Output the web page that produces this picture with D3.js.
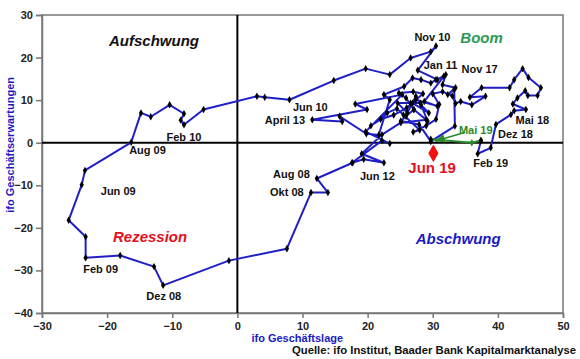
<!DOCTYPE html>
<html>
<head>
<meta charset="utf-8">
<script src="https://cdn.jsdelivr.net/npm/d3@7"></script>
<style>
    body { margin: 0; background: #fff; }
    #clock { width: 580px; height: 359px; }
    text { font-family: "Liberation Sans", Arial, sans-serif; }
    .axis text { font-size: 11px; font-weight: bold; fill: #222; }
    .axis path, .axis line { stroke: #777; stroke-width: 1.5; }
</style>
</head>
<body>
<div id="clock"></div>
<script>

// ifo Geschäftslage (x) und Geschäftserwartungen (y), monatlich Jul 08 - Mai 19
const lage = [
    17.7, 12.2, 13.9, 11.3, 7.6, -1.3,
    -11.4, -12.8, -18.0, -23.3, -23.3, -25.9, -23.9, -23.4, -16.3, -14.8, -13.3, -10.4,
    -8.2, -8.7, -8.2, -5.2, 3.0, 4.2, 8.0, 14.8, 19.7, 23.4, 26.6, 29.7,
    30.5, 27.7, 30.7, 32.0, 31.5, 33.5, 32.3, 33.3, 33.4, 29.7, 27.9, 25.1,
    25.9, 27.1, 29.0, 25.1, 22.2, 19.1, 22.5, 19.4, 17.6, 22.2, 23.4, 19.7,
    25.3, 18.1, 19.9, 11.5, 16.1, 15.7, 19.8, 21.7, 23.4, 22.5, 25.6, 26.9,
    28.2, 29.7, 30.5, 31.7, 28.7, 30.7, 27.4, 26.6, 24.6, 26.1, 27.4, 28.2,
    29.4, 26.9, 28.1, 29.2, 27.1, 25.9, 24.8, 27.0, 28.5, 26.0, 24.0, 22.0,
    20.5, 23.0, 24.5, 25.5, 28.0, 27.0, 29.0, 30.5, 31.0, 30.0, 31.5, 33.0,
    33.5, 34.3, 36.0, 38.1, 35.7, 37.5, 41.8, 42.5, 43.8, 44.7, 46.6, 46.1,
    44.6, 44.2, 43.0, 42.3, 44.3, 42.5, 42.0, 39.7, 38.9, 36.9, 37.4
];
const erwartungen = [
    -4.7, -8.4, -11.7, -11.7, -24.9, -27.7,
    -33.5, -29.1, -26.5, -27.0, -22.1, -18.2, -9.9, -6.5, 0.1, 7.0, 6.1, 8.9,
    6.8, 5.3, 4.2, 7.8, 10.9, 10.7, 10.1, 14.6, 17.4, 16.0, 19.9, 21.4,
    22.7, 17.0, 14.8, 16.0, 13.6, 12.9, 11.3, 12.5, 3.9, 0.3, 4.3, 5.1,
    6.2, 7.8, 5.4, 4.7, 1.9, -2.6, -4.7, -3.9, -4.7, 0.5, -0.2, 2.6,
    11.3, 9.1, 7.8, 5.4, 5.0, 6.2, 2.1, 1.8, 10.1, 11.3, 13.2, 15.2,
    14.8, 14.0, 14.8, 15.6, 9.7, 8.6, 10.1, 9.3, 9.3, 7.0, 10.9, 8.9,
    7.0, 9.3, 9.3, 5.1, 7.8, 10.5, 11.7, 12.0, 11.5, 8.2, 6.5, 5.5,
    4.0, 7.0, 8.0, 6.5, 3.0, 2.5, 4.0, 5.5, 9.0, 11.5, 12.0, 11.0,
    9.2, 9.7, 8.9, 10.9, 10.7, 12.9, 12.9, 14.8, 17.4, 15.3, 12.9, 11.1,
    11.1, 12.2, 10.5, 9.1, 7.8, 7.5, 6.6, 4.3, -1.2, -2.6, 0.5
];

// letzte Monate (grün) und aktueller Wert Jun 19
const lageLetzte = [37.4, 36.0, 29.7];
const erwLetzte = [0.5, 0.0, 0.8];
const lageAktuell = 30.1;
const erwAktuell = -2.5;

// Beschriftungen der Monate
const labelText = ["Nov 10", "Jan 11", "Nov 17", "Jun 10", "April 13", "Mai 18", "Dez 18",
    "Feb 19", "Jun 12", "Aug 08", "Okt 08", "Feb 10", "Aug 09", "Jun 09", "Feb 09", "Dez 08"];
const labelLage = [29.95, 31.2, 37.2, 11.2, 7.3, 45.3, 42.7, 38.9, 21.5, 8.3, 7.6, -8.2, -13.8, -18.3, -21.0, -11.3];
const labelErw = [24.7, 18.3, 17.3, 8.4, 5.4, 5.2, 2.1, -4.9, -7.8, -7.5, -11.7, 1.4, -1.8, -11.4, -29.8, -36.1];

// Quadranten
const quadText = ["Aufschwung", "Boom", "Rezession", "Abschwung"];
const quadLage = [-12.8, 37.5, -13.4, 33.9];
const quadErw = [24.0, 24.7, -22.0, -22.5];
const quadColor = ["#111", "#2e9a55", "#e3101c", "#1b1bc4"];

const xTicks = [-30, -20, -10, 0, 10, 20, 30, 40, 50];
const yTicks = [-40, -30, -20, -10, 0, 10, 20, 30];


class ClockVis {

    constructor(parentElement) {
        this.parentElement = parentElement;
        this.initVis();
    }

    initVis() {
        let vis = this;

        vis.margin = {top: 15, right: 17, bottom: 46, left: 42};
        vis.width = 580 - vis.margin.left - vis.margin.right;
        vis.height = 359 - vis.margin.top - vis.margin.bottom;

        vis.svg = d3.select("#" + vis.parentElement).append("svg")
            .attr("width", 580)
            .attr("height", 359)
            .append("g")
            .attr("transform", `translate(${vis.margin.left}, ${vis.margin.top})`);

        vis.x = d3.scaleLinear().domain([-30, 50]).range([0, vis.width]);
        vis.y = d3.scaleLinear().domain([-40, 30]).range([vis.height, 0]);

        vis.svg.append("defs").append("marker")
            .attr("id", "arrow")
            .attr("viewBox", "0 0 10 10")
            .attr("refX", 9).attr("refY", 5)
            .attr("markerWidth", 7).attr("markerHeight", 7)
            .attr("orient", "auto")
            .append("path")
            .attr("d", "M0,1L10,5L0,9z")
            .attr("fill", "#2a8a2a");

        vis.wrangleData();
    }

    wrangleData() {
        let vis = this;
        vis.points = lage.map((d, i) => ({lage: d, erw: erwartungen[i]}));
        vis.greenPoints = lageLetzte.map((d, i) => ({lage: d, erw: erwLetzte[i]}));
        vis.updateVis();
    }

    updateVis() {
        let vis = this;

        // frame
        vis.svg.append("rect")
            .attr("width", vis.width)
            .attr("height", vis.height)
            .attr("fill", "none")
            .attr("stroke", "#777")
            .attr("stroke-width", 1.5);

        // axes
        vis.svg.append("g")
            .attr("class", "axis")
            .attr("transform", `translate(0, ${vis.height})`)
            .call(d3.axisBottom(vis.x).tickValues(xTicks).tickSize(5).tickPadding(4));

        vis.svg.append("g")
            .attr("class", "axis")
            .call(d3.axisLeft(vis.y).tickValues(yTicks).tickSize(6).tickPadding(3));

        // zero lines
        vis.svg.append("line")
            .attr("x1", vis.x(0)).attr("x2", vis.x(0))
            .attr("y1", 0).attr("y2", vis.height)
            .attr("stroke", "#000").attr("stroke-width", 2);
        vis.svg.append("line")
            .attr("x1", 0).attr("x2", vis.width)
            .attr("y1", vis.y(0)).attr("y2", vis.y(0))
            .attr("stroke", "#000").attr("stroke-width", 2);

        let line = d3.line()
            .x(d => vis.x(d.lage))
            .y(d => vis.y(d.erw));

        vis.svg.append("path")
            .datum(vis.points)
            .attr("d", line)
            .attr("fill", "none")
            .attr("stroke", "#1f1fc8")
            .attr("stroke-width", 2)
            .attr("stroke-linejoin", "round");

        vis.svg.append("path")
            .datum(vis.greenPoints)
            .attr("d", line)
            .attr("fill", "none")
            .attr("stroke", "#2a8a2a")
            .attr("stroke-width", 2);

        let diamond = d3.symbol().type(d3.symbolDiamond).size(16);

        vis.svg.selectAll(".pt")
            .data(vis.points.concat(vis.greenPoints))
            .enter().append("path")
            .attr("class", "pt")
            .attr("d", diamond)
            .attr("transform", d => `translate(${vis.x(d.lage)}, ${vis.y(d.erw)})`)
            .attr("fill", (d, i) => i === vis.points.length + 1 ? "#2a8a2a" : "#000");

        // aktueller Wert
        vis.svg.append("path")
            .attr("d", d3.symbol().type(d3.symbolDiamond).size(90))
            .attr("transform", `translate(${vis.x(lageAktuell)}, ${vis.y(erwAktuell)})`)
            .attr("fill", "#f01010");

        // month labels
        vis.svg.selectAll(".lbl")
            .data(labelText)
            .enter().append("text")
            .attr("class", "lbl")
            .attr("x", (d, i) => vis.x(labelLage[i]))
            .attr("y", (d, i) => vis.y(labelErw[i]))
            .attr("dy", "0.35em")
            .attr("text-anchor", "middle")
            .style("font-size", "11px")
            .style("font-weight", "bold")
            .style("fill", "#111")
            .text(d => d);

        vis.svg.append("text")
            .attr("x", vis.x(36.6)).attr("y", vis.y(3.0))
            .attr("dy", "0.35em")
            .attr("text-anchor", "middle")
            .style("font-size", "11px").style("font-weight", "bold")
            .style("fill", "#2a8a2a")
            .text("Mai 19");

        vis.svg.append("line")
            .attr("x1", vis.x(34.9)).attr("y1", vis.y(2.4))
            .attr("x2", vis.x(30.4)).attr("y2", vis.y(0.4))
            .attr("stroke", "#2a8a2a").attr("stroke-width", 1.5)
            .attr("marker-end", "url(#arrow)");

        vis.svg.append("text")
            .attr("x", vis.x(29.9)).attr("y", vis.y(-5.9))
            .attr("dy", "0.35em")
            .attr("text-anchor", "middle")
            .style("font-size", "15px").style("font-weight", "bold")
            .style("fill", "#e3101c")
            .text("Jun 19");

        // quadrant names
        vis.svg.selectAll(".quad")
            .data(quadText)
            .enter().append("text")
            .attr("class", "quad")
            .attr("x", (d, i) => vis.x(quadLage[i]))
            .attr("y", (d, i) => vis.y(quadErw[i]))
            .attr("dy", "0.35em")
            .attr("text-anchor", "middle")
            .style("font-size", "15px")
            .style("font-weight", "bold")
            .style("font-style", "italic")
            .style("fill", (d, i) => quadColor[i])
            .text(d => d);

        // axis titles
        vis.svg.append("text")
            .attr("transform", `translate(${10 - vis.margin.left}, ${vis.y(-0.5)}) rotate(-90)`)
            .attr("dy", "0.35em")
            .attr("text-anchor", "middle")
            .style("font-size", "11px").style("font-weight", "bold")
            .style("fill", "#1b1bc4")
            .text("ifo Geschäftserwartungen");

        vis.svg.append("text")
            .attr("x", vis.x(9.2)).attr("y", vis.height + 25)
            .attr("dy", "0.35em")
            .attr("text-anchor", "middle")
            .style("font-size", "11px").style("font-weight", "bold")
            .style("fill", "#1b1bc4")
            .text("ifo Geschäftslage");

        vis.svg.append("text")
            .attr("x", 576 - vis.margin.left).attr("y", vis.height + 37)
            .attr("dy", "0.35em")
            .attr("text-anchor", "end")
            .attr("textLength", 284)
            .attr("lengthAdjust", "spacingAndGlyphs")
            .style("font-size", "11.5px").style("font-weight", "bold")
            .style("fill", "#111")
            .text("Quelle: ifo Institut, Baader Bank Kapitalmarktanalyse");
    }
}

new ClockVis("clock");
</script>
</body>
</html>
